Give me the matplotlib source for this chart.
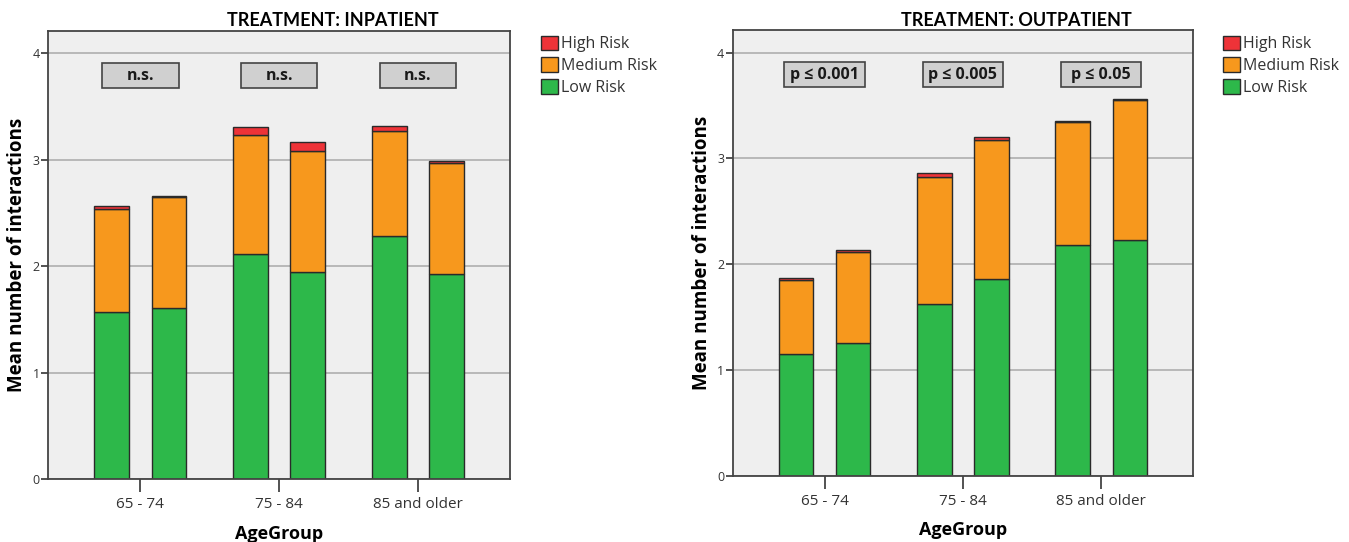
import numpy as np
import matplotlib.pyplot as plt
from matplotlib.patches import Rectangle, Patch

plt.rcParams['font.family'] = ['Open Sans', 'DejaVu Sans']

age_groups = ['65 - 74', '75 - 84', '85 and older']

# two bars per age group, listed group by group
inpatient_low = [1.57, 1.61, 2.11, 1.95, 2.28, 1.93]
inpatient_medium = [0.97, 1.04, 1.12, 1.13, 0.995, 1.04]
inpatient_high = [0.025, 0.013, 0.078, 0.088, 0.039, 0.023]

outpatient_low = [1.15, 1.255, 1.625, 1.86, 2.18, 2.23]
outpatient_medium = [0.70, 0.86, 1.20, 1.31, 1.165, 1.325]
outpatient_high = [0.016, 0.016, 0.033, 0.033, 0.004, 0.004]

inpatient_tests = ['n.s.', 'n.s.', 'n.s.']
outpatient_tests = ['p \u2264 0.001', 'p \u2264 0.005', 'p \u2264 0.05']

risk_labels = ['Low Risk', 'Medium Risk', 'High Risk']
colors = ['#2db84a', '#f7981d', '#ee3338']
bg = '#efefef'
edge = '#2a2a2a'

bar_w = 0.25
offset = 0.206


def draw_panel(ax, low, medium, high, tests, title, title_x, box_w):
    groups = np.arange(len(age_groups))
    x = np.repeat(groups, 2) + np.tile([-offset, offset], len(age_groups))
    low = np.array(low)
    medium = np.array(medium)
    high = np.array(high)

    ax.set_facecolor(bg)
    ax.set_axisbelow(True)
    ax.yaxis.grid(True, color='#b4b4b4', lw=1.3)

    ax.bar(x, low, bar_w, color=colors[0], edgecolor=edge, lw=1)
    ax.bar(x, medium, bar_w, bottom=low, color=colors[1], edgecolor=edge, lw=1)
    ax.bar(x, high, bar_w, bottom=low + medium, color=colors[2],
           edgecolor=edge, lw=1)

    # significance boxes above each age group
    box_h = 0.235
    for g, txt in zip(groups, tests):
        ax.add_patch(Rectangle((g - box_w / 2, 3.79 - box_h / 2), box_w, box_h,
                               facecolor='#d0d0d0', edgecolor='#444444',
                               lw=1.2, zorder=3))
        ax.text(g, 3.79, txt, ha='center', va='center', fontsize=11.5,
                fontweight='bold', color='#1a1a1a', zorder=4)

    ax.set_xlim(-0.664, 2.665)
    ax.set_ylim(0, 4.21)
    ax.set_xticks(groups)
    ax.set_xticklabels(age_groups, fontsize=11, color='#333333')
    ax.set_yticks([0, 1, 2, 3, 4])
    ax.tick_params(axis='x', length=9, width=1.3, color='#444444', pad=4)
    ax.tick_params(axis='y', length=5, width=1.3, color='#444444',
                   labelsize=9, labelcolor='#333333', pad=1)
    for s in ax.spines.values():
        s.set_color('#444444')
        s.set_linewidth(1.3)

    ax.set_xlabel('AgeGroup', fontsize=13, fontweight='bold', labelpad=9)
    ax.set_ylabel('Mean number of interactions', fontsize=13.5,
                  fontweight='bold', labelpad=4)
    ax.figure.text(title_x, 0.962, title, ha='center', va='center',
                   fontsize=13, fontweight='bold', family='Lato')


fig = plt.figure(figsize=(13.49, 5.42), dpi=100)
ax1 = fig.add_axes([0.0358, 0.1162, 0.3423, 0.8266])
ax2 = fig.add_axes([0.5431, 0.1223, 0.3415, 0.8217])

draw_panel(ax1, inpatient_low, inpatient_medium, inpatient_high,
           inpatient_tests, 'TREATMENT: INPATIENT', 333 / 1349, 0.55)
draw_panel(ax2, outpatient_low, outpatient_medium, outpatient_high,
           outpatient_tests, 'TREATMENT: OUTPATIENT', 1016 / 1349, 0.58)

handles = [Patch(facecolor=c, edgecolor=edge, lw=1, label=l)
           for c, l in zip(colors, risk_labels)][::-1]
for lx in (530 / 1349, 1212 / 1349):
    fig.legend(handles=handles, loc='upper left', bbox_to_anchor=(lx, 0.955),
               frameon=False, fontsize=11.5, handlelength=1.05,
               handleheight=1.05, handletextpad=0.2, labelspacing=0.3,
               borderpad=0.2, labelcolor='#333333')

fig.savefig('out.png', dpi=100)
